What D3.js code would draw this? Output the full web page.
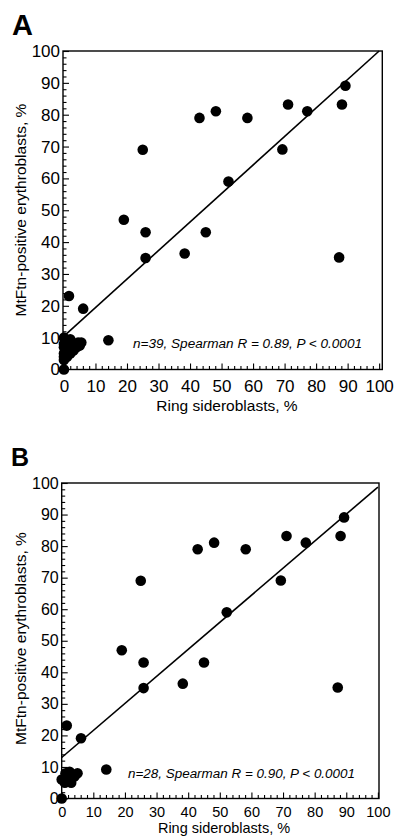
<!DOCTYPE html>
<html>
<head>
<meta charset="utf-8">
<script src="https://cdn.jsdelivr.net/npm/d3@7"></script>
<style>
  html, body { margin: 0; padding: 0; background: #fff; }
  svg { display: block; }
  text { font-family: "Liberation Sans", Arial, Helvetica, sans-serif; fill: #000; }
</style>
</head>
<body>
<svg id="chart" width="397" height="837"></svg>
<script>
// ---------- data ----------
const xTicks = [0, 10, 20, 30, 40, 50, 60, 70, 80, 90, 100];
const yTicks = [0, 10, 20, 30, 40, 50, 60, 70, 80, 90, 100];

// patients shown in both panels (ring sideroblasts %, MtFtn-positive %)
const sharedRing  = [25.0, 43.0, 48.2, 58.2, 71.1, 77.2, 69.3, 89.3, 88.2, 52.2, 19.0, 25.9, 25.9, 38.3, 45.0, 87.3, 1.6, 6.1, 14.1, 0];
const sharedMtftn = [69.0, 79.0, 81.1, 79.0, 83.2, 81.1, 69.1, 89.1, 83.2, 59.0, 47.0, 43.1, 35.0, 36.4, 43.1, 35.2, 23.1, 19.1, 9.2, 0];

// cluster near the origin, panel A (19 points)
const clusterRingA  = [0, 0, 0, 0, 0, 0, 1, 1, 1, 1.5, 2, 2, 2, 3, 3, 4, 4.5, 5, 5.5];
const clusterMtftnA = [10, 8, 7, 5, 4, 3, 9, 6, 4, 8, 9.5, 7, 5, 8, 6, 7, 8.5, 7.5, 8.5];

// cluster near the origin, panel B (8 points)
const clusterRingB  = [0, 1, 1.2, 2, 2.5, 3, 4, 5];
const clusterMtftnB = [6, 5, 8, 6.5, 8.5, 5, 7, 8];

// regression line end points
const regA_x = [0, 100];
const regA_y = [10.5, 100];
const regB_x = [0, 100];
const regB_y = [13, 98.7];

const labelA = "A";
const labelB = "B";
const noteA = "n=39, Spearman R = 0.89, P < 0.0001";
const noteB = "n=28, Spearman R = 0.90, P < 0.0001";
const xTitle = "Ring sideroblasts, %";
const yTitle = "MtFtn-positive erythroblasts, %";

// ---------- drawing ----------
const svg = d3.select("#chart");

function drawPanel(cfg) {
  const g = svg.append("g");
  const x = d3.scaleLinear().domain(cfg.xdom).range([cfg.left, cfg.right]);
  const y = d3.scaleLinear().domain([0, 100]).range([cfg.bottom, cfg.top]);

  const minor = d3.range(0, 101, 2).filter(v => v % 10 !== 0);

  // minor ticks
  g.append("g").attr("transform", `translate(0,${cfg.bottom})`)
    .call(d3.axisBottom(x).tickValues(minor).tickSize(-3.5).tickFormat(""))
    .call(a => a.select(".domain").remove());
  g.append("g").attr("transform", `translate(${cfg.left},0)`)
    .call(d3.axisLeft(y).tickValues(minor).tickSize(-3.5).tickFormat(""))
    .call(a => a.select(".domain").remove());

  // major ticks + labels
  const xa = g.append("g").attr("transform", `translate(0,${cfg.bottom})`)
    .call(d3.axisBottom(x).tickValues(xTicks).tickSize(-6).tickPadding(cfg.xPad).tickFormat(d3.format("d")));
  xa.select(".domain").remove();
  xa.selectAll("text").style("font-size", cfg.xTickFont + "px").attr("fill", "#000");

  const ya = g.append("g").attr("transform", `translate(${cfg.left},0)`)
    .call(d3.axisLeft(y).tickValues(yTicks).tickSize(-6).tickPadding(3).tickFormat(d3.format("d")));
  ya.select(".domain").remove();
  ya.selectAll("text").style("font-size", cfg.yTickFont + "px").attr("fill", "#000");

  g.selectAll(".tick line").attr("stroke", "#000").attr("stroke-width", 1.1);

  // frame
  g.append("rect")
    .attr("x", cfg.left).attr("y", cfg.top)
    .attr("width", cfg.right - cfg.left).attr("height", cfg.bottom - cfg.top)
    .attr("fill", "none").attr("stroke", "#000").attr("stroke-width", 1.4);

  // regression line
  g.append("line")
    .attr("x1", x(cfg.regX[0])).attr("y1", y(cfg.regY[0]))
    .attr("x2", x(cfg.regX[1])).attr("y2", y(cfg.regY[1]))
    .attr("stroke", "#000").attr("stroke-width", 1.6);

  // points
  const pts = cfg.ring.map((r, i) => ({ r, m: cfg.mtftn[i] }));
  g.selectAll("circle.pt").data(pts).enter().append("circle")
    .attr("class", "pt")
    .attr("cx", d => x(d.r)).attr("cy", d => y(d.m))
    .attr("r", 5.3).attr("fill", "#000");

  // annotation
  g.append("text")
    .attr("x", cfg.noteEnd).attr("y", cfg.noteY)
    .attr("text-anchor", "end")
    .style("font-style", "italic").style("font-size", "12.5px")
    .attr("textLength", cfg.noteW).attr("lengthAdjust", "spacingAndGlyphs")
    .text(cfg.note);

  // panel letter
  g.append("text").attr("x", cfg.letterX).attr("y", cfg.letterY)
    .style("font-weight", "bold").style("font-size", cfg.letterFont + "px")
    .text(cfg.letter);

  // axis titles
  g.append("text").attr("x", cfg.xTitleX).attr("y", cfg.xTitleY)
    .attr("text-anchor", "middle").style("font-size", cfg.titleFont + "px")
    .text(xTitle);
  g.append("text")
    .attr("transform", `translate(${cfg.yTitleX},${cfg.yTitleY}) rotate(-90)`)
    .attr("text-anchor", "middle").style("font-size", "15.5px")
    .text(yTitle);
}

drawPanel({
  left: 63, right: 382.3, top: 51, bottom: 369.5, xdom: [-0.3, 101],
  ring: sharedRing.concat(clusterRingA), mtftn: sharedMtftn.concat(clusterMtftnA),
  regX: regA_x, regY: regA_y,
  note: noteA, noteEnd: 362, noteY: 348, noteW: 229,
  letter: labelA, letterX: 12, letterY: 35, letterFont: 29,
  xTitleX: 227, xTitleY: 411, yTitleX: 25.5, yTitleY: 210,
  xTickFont: 17, yTickFont: 17, xPad: 10, titleFont: 15.5
});

drawPanel({
  left: 61.7, right: 379, top: 483, bottom: 798.5, xdom: [0, 100.35],
  ring: sharedRing.concat(clusterRingB), mtftn: sharedMtftn.concat(clusterMtftnB),
  regX: regB_x, regY: regB_y,
  note: noteB, noteEnd: 355, noteY: 778, noteW: 227,
  letter: labelB, letterX: 11, letterY: 466, letterFont: 25,
  xTitleX: 224, xTitleY: 833, yTitleX: 25.5, yTitleY: 638.5,
  xTickFont: 14.5, yTickFont: 16, xPad: 8, titleFont: 14.5
});
</script>
</body>
</html>
